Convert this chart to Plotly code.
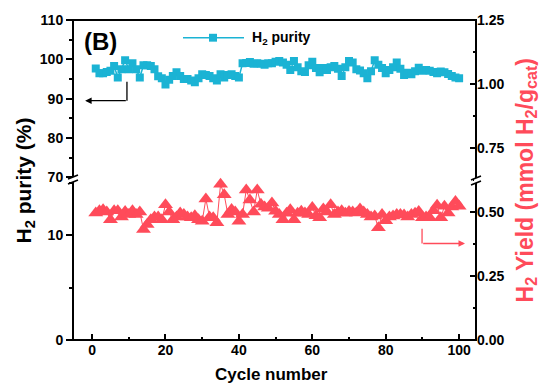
import plotly.graph_objects as go

cycles = list(range(1, 101))
purity = [97.7, 96.5, 96.5, 96.8, 97.1, 98.3, 95.4, 97.5, 99.8, 97.5,
          99.0, 97.5, 95.4, 98.5, 98.5, 98.3, 97.5, 95.7, 95.2, 93.6,
          94.8, 95.8, 96.7, 95.8, 95.0, 95.0, 94.6, 94.2, 95.2, 96.2,
          96.0, 95.8, 95.2, 94.6, 96.2, 95.4, 96.0, 96.2, 95.8, 95.4,
          99.0, 99.1, 99.3, 98.9, 99.0, 98.9, 98.6, 99.0, 99.0, 99.4,
          99.6, 99.2, 98.6, 97.3, 99.6, 98.0, 97.0, 96.8, 98.5, 99.4,
          97.8, 96.7, 97.8, 97.3, 98.0, 98.3, 97.6, 95.8, 98.0, 99.6,
          99.2, 97.5, 97.2, 96.5, 95.2, 97.0, 99.8, 98.6, 97.8, 96.5,
          97.3, 98.0, 99.2, 97.6, 96.0, 96.6, 96.2, 97.0, 97.9, 97.1,
          97.3, 97.1, 96.8, 96.5, 96.9, 96.7, 96.3, 95.8, 95.4, 95.2]
yield_ = [0.496, 0.505, 0.509, 0.500, 0.470, 0.505, 0.505, 0.480, 0.502, 0.490,
          0.505, 0.490, 0.500, 0.432, 0.451, 0.470, 0.480, 0.480, 0.470, 0.528,
          0.500, 0.470, 0.480, 0.496, 0.490, 0.480, 0.478, 0.485, 0.470, 0.464,
          0.551, 0.480, 0.478, 0.458, 0.608, 0.567, 0.490, 0.510, 0.500, 0.464,
          0.490, 0.586, 0.547, 0.500, 0.586, 0.530, 0.520, 0.515, 0.535, 0.503,
          0.490, 0.470, 0.495, 0.509, 0.470, 0.495, 0.503, 0.496, 0.490, 0.518,
          0.485, 0.478, 0.512, 0.500, 0.528, 0.490, 0.500, 0.505, 0.495, 0.502,
          0.500, 0.496, 0.512, 0.500, 0.490, 0.480, 0.484, 0.438, 0.490, 0.466,
          0.480, 0.484, 0.490, 0.490, 0.488, 0.480, 0.490, 0.495, 0.502, 0.478,
          0.480, 0.478, 0.505, 0.526, 0.478, 0.522, 0.496, 0.520, 0.541, 0.522]

x_ticks = [0, 20, 40, 60, 80, 100]
left_low_ticks = [0, 10]
left_high_ticks = [70, 80, 90, 100, 110]
right_ticks = [0.0, 0.25, 0.5, 0.75, 1.0, 1.25]

BLUE = "#1bb3d4"
RED = "#ff4b5a"
FONT = "Liberation Sans"

L, R, T, B = 73, 476, 15, 340
W, H = R - L, B - T


def px(x):
    return (x - L) / W


def py(y):
    return (B - y) / H


fig = go.Figure()
# empty trace so the lower left axis is drawn
fig.add_trace(go.Scatter(x=[], y=[], yaxis="y", mode="markers", showlegend=False,
                         hoverinfo="skip"))
fig.add_trace(go.Scatter(x=cycles, y=yield_, yaxis="y2", mode="lines+markers",
                         line=dict(color=RED, width=1),
                         marker=dict(symbol="triangle-up", size=13, color=RED),
                         showlegend=False))
fig.add_trace(go.Scatter(x=cycles, y=purity, yaxis="y3", mode="lines+markers",
                         line=dict(color=BLUE, width=1.5),
                         marker=dict(symbol="square", size=8, color=BLUE),
                         showlegend=False))

tf = dict(family=FONT, size=14, color="black", weight="bold")
common = dict(showgrid=False, zeroline=False, showline=False, tickfont=tf,
              tickcolor="black", tickwidth=2, ticklen=6)

fig.update_layout(
    width=543, height=383,
    margin=dict(l=L, r=543 - R, t=T, b=383 - B),
    paper_bgcolor="white", plot_bgcolor="rgba(0,0,0,0)",
    font=dict(family=FONT),
    xaxis=dict(range=[-5.2, 104.6], tickvals=x_ticks, ticks="inside",
               anchor="y", domain=[0, 1],
               minor=dict(dtick=10, tick0=0, ticks="inside", ticklen=3,
                          tickwidth=2, tickcolor="black"),
               **common),
    yaxis=dict(range=[0, 15], domain=[0, 0.49], tickvals=left_low_ticks,
               ticks="outside", anchor="x",
               minor=dict(dtick=5, tick0=0, ticks="outside", ticklen=3,
                          tickwidth=2, tickcolor="black"),
               **common),
    yaxis3=dict(range=[70, 110], domain=[0.508, 1], tickvals=left_high_ticks,
                ticks="outside", anchor="x",
                minor=dict(dtick=5, tick0=70, ticks="outside", ticklen=3,
                           tickwidth=2, tickcolor="black"),
                **common),
    yaxis2=dict(range=[0, 1.25], domain=[0, 1], tickvals=right_ticks,
                tickformat=".2f", ticks="inside", side="right", anchor="x",
                minor=dict(dtick=0.125, tick0=0, ticks="inside", ticklen=3,
                           tickwidth=2, tickcolor="black"),
                **common),
)

shapes = []
# frame
shapes.append(dict(type="rect", xref="paper", yref="paper", x0=0, y0=0, x1=1, y1=1,
                   line=dict(color="black", width=2), layer="above"))
# axis breaks
for bx, by in [(L, 177), (R, 178)]:
    shapes.append(dict(type="line", xref="paper", yref="paper",
                       x0=px(bx), x1=px(bx), y0=py(by + 2.5), y1=py(by - 2.5),
                       line=dict(color="white", width=4), layer="above"))
    for off in (-2.5, 2.5):
        shapes.append(dict(type="line", xref="paper", yref="paper",
                           x0=px(bx - 5), y0=py(by + off + 2), x1=px(bx + 5), y1=py(by + off - 2),
                           line=dict(color="black", width=1.6), layer="above"))
# legend glyph
shapes.append(dict(type="line", xref="paper", yref="paper",
                   x0=px(183), x1=px(244), y0=py(33), y1=py(33),
                   line=dict(color=BLUE, width=1.5)))
shapes.append(dict(type="rect", xref="paper", yref="paper",
                   x0=px(209), x1=px(217), y0=py(37), y1=py(29),
                   line=dict(width=0), fillcolor=BLUE))
# arrow vertical segments
shapes.append(dict(type="line", xref="x", yref="y3", x0=9.5, x1=9.5, y0=94.3, y1=89.5,
                   line=dict(color="black", width=1.3)))
shapes.append(dict(type="line", xref="x", yref="y2", x0=89.9, x1=89.9, y0=0.435, y1=0.377,
                   line=dict(color=RED, width=1.3)))
fig.update_layout(shapes=shapes)

ann = []
ann.append(dict(x=-1.9, y=89.5, xref="x", yref="y3", ax=9.6, ay=89.5, axref="x", ayref="y3",
                text="", showarrow=True, arrowhead=2, arrowsize=1, arrowwidth=1.3,
                arrowcolor="black"))
ann.append(dict(x=101.6, y=0.377, xref="x", yref="y2", ax=89.8, ay=0.377, axref="x", ayref="y2",
                text="", showarrow=True, arrowhead=2, arrowsize=1, arrowwidth=1.3,
                arrowcolor=RED))
ann.append(dict(x=px(82), y=py(37), xref="paper", yref="paper", xanchor="left", yanchor="middle",
                text="(B)", showarrow=False,
                font=dict(family=FONT, size=24, color="black", weight="bold")))
ann.append(dict(x=px(250), y=py(33), xref="paper", yref="paper", xanchor="left", yanchor="middle",
                text="H<sub>2</sub> purity", showarrow=False,
                font=dict(family=FONT, size=14, color="black", weight="bold")))
ann.append(dict(x=px(25), y=py(178), xref="paper", yref="paper", xanchor="center", yanchor="middle",
                text="H<sub>2</sub> purity (%)", textangle=-90, showarrow=False,
                font=dict(family=FONT, size=21, color="black", weight="bold")))
ann.append(dict(x=px(526), y=py(178), xref="paper", yref="paper", xanchor="center", yanchor="middle",
                text="H<sub>2</sub> Yield (mmol H<sub>2</sub>/g<sub>cat</sub>)", textangle=-90,
                showarrow=False,
                font=dict(family=FONT, size=23, color=RED, weight="bold")))
ann.append(dict(x=px(271), y=py(375), xref="paper", yref="paper", xanchor="center", yanchor="middle",
                text="Cycle number", showarrow=False,
                font=dict(family=FONT, size=17, color="black", weight="bold")))
fig.update_layout(annotations=ann)

fig.write_html("out.html")
